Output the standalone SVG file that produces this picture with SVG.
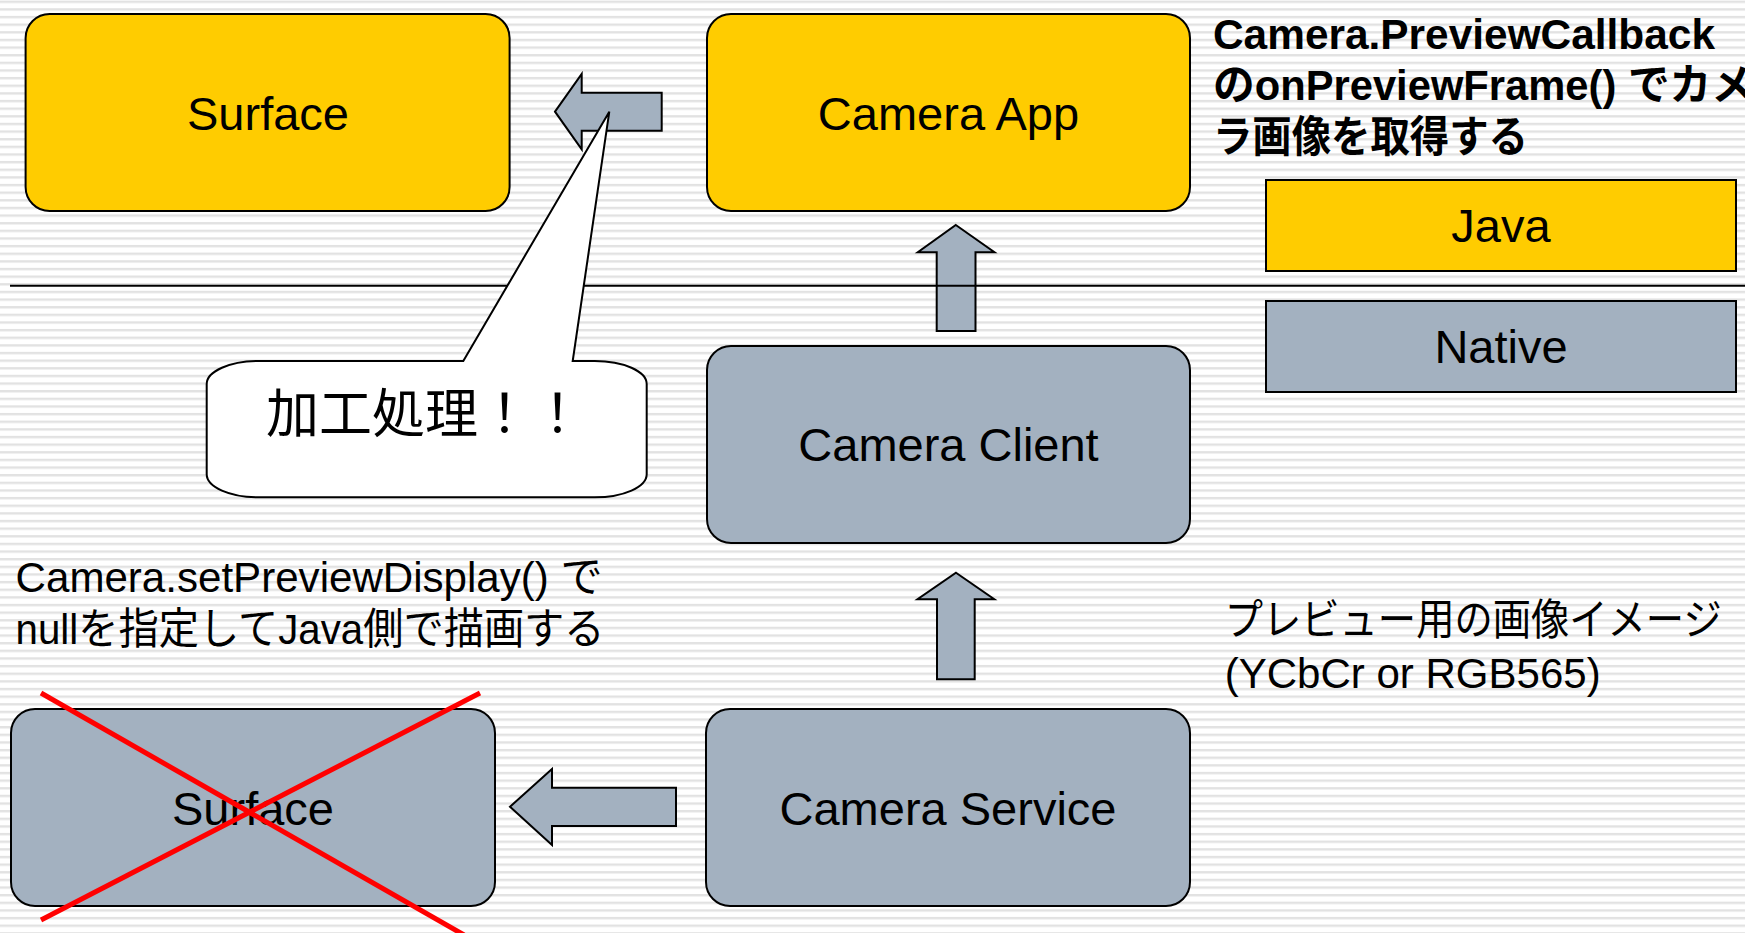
<svg xmlns="http://www.w3.org/2000/svg" width="1745" height="933" viewBox="0 0 1745 933">
<style>
.bg{fill:url(#stripes)}
.yel{fill:#FFCC00;stroke:#000;stroke-width:2}
.gry{fill:#A3B1C0;stroke:#000;stroke-width:2}
.arrow{fill:#A3B1C0;stroke:#000;stroke-width:2;stroke-linejoin:miter}
.lbl{font-family:"Liberation Sans",Arial,sans-serif;font-size:47px;fill:#000;text-anchor:middle}
.note{font-family:"Liberation Sans","Noto Sans CJK JP",sans-serif;font-size:42.7px;fill:#000}
.bold{font-weight:bold}
.callout{fill:#fff;stroke:#000;stroke-width:2;stroke-linejoin:miter}
.cjk{font-family:"Noto Sans CJK JP",sans-serif;font-size:53px;fill:#000;text-anchor:middle}
.cross{stroke:#FF0000;stroke-width:5;fill:none}
</style>
<defs>
<pattern id="stripes" patternUnits="userSpaceOnUse" x="0" y="0.6" width="20" height="7.636">
<rect x="0" y="0" width="20" height="7.636" fill="#ffffff"/>
<rect x="0" y="0" width="20" height="2.4" fill="#e2e2e2"/>
</pattern>
</defs>
<rect class="bg" x="0" y="0" width="1745" height="933"/>

<g id="connectors">
<polygon id="arrow-app-surface" class="arrow" points="555,111.7 581.7,74 581.7,92.7 661.7,92.7 661.7,130.7 581.7,130.7 581.7,149.3"/>
<polygon id="arrow-client-app" class="arrow" points="955.8,225 994.5,252.3 975.5,252.3 975.5,331 936.7,331 936.7,252.3 917.8,252.3"/>
<polygon id="arrow-service-client" class="arrow" points="956,572.7 994.3,599.3 974.7,599.3 974.7,679.3 937,679.3 937,599.3 917.5,599.3"/>
<polygon id="arrow-service-surface" class="arrow" points="510,806.7 552,769 552,787.7 676,787.7 676,826 552,826 552,845"/>
</g>

<line id="divider" x1="10" y1="285.7" x2="1745" y2="285.7" stroke="#000" stroke-width="2"/>

<g id="surface-java">
<rect class="yel" x="25.6" y="14" width="484" height="197" rx="24" ry="24"/>
<text class="lbl" x="268" y="130">Surface</text>
</g>
<g id="camera-app">
<rect class="yel" x="707" y="14" width="483" height="197" rx="24" ry="24"/>
<text class="lbl" x="948.5" y="130">Camera App</text>
</g>
<g id="camera-client">
<rect class="gry" x="707" y="346" width="483" height="197" rx="24" ry="24"/>
<text class="lbl" x="948.5" y="461">Camera Client</text>
</g>
<g id="camera-service">
<rect class="gry" x="706" y="709" width="484" height="197" rx="24" ry="24"/>
<text class="lbl" x="948" y="825">Camera Service</text>
</g>
<g id="surface-native">
<rect class="gry" x="11" y="709" width="484" height="197" rx="24" ry="24"/>
<text class="lbl" x="253" y="825">Surface</text>
</g>
<g id="legend-java">
<rect class="yel" x="1266" y="180" width="470" height="91"/>
<text class="lbl" x="1501" y="242">Java</text>
</g>
<g id="legend-native">
<rect class="gry" x="1266" y="301" width="470" height="91"/>
<text class="lbl" x="1501" y="363">Native</text>
</g>

<g id="callout">
<path class="callout" d="M258.7,361 L463.3,361 L609.3,111.7 L572.7,361 L594.7,361 A52 23 0 0 1 646.7,384 L646.7,474.3 A52 23 0 0 1 594.7,497.3 L258.7,497.3 A52 23 0 0 1 206.7,474.3 L206.7,384 A52 23 0 0 1 258.7,361 Z"/>
<text class="cjk" x="425" y="433">加工処理！！</text>
</g>

<g id="note-callback" class="note bold">
<text x="1213" y="48.5" textLength="502" lengthAdjust="spacingAndGlyphs">Camera.PreviewCallback</text>
<text x="1213" y="100" textLength="540" lengthAdjust="spacingAndGlyphs">のonPreviewFrame() でカメ</text>
<text x="1213" y="151.5" textLength="315" lengthAdjust="spacingAndGlyphs">ラ画像を取得する</text>
</g>

<g id="note-display" class="note">
<text x="15.6" y="591.7" textLength="587" lengthAdjust="spacingAndGlyphs">Camera.setPreviewDisplay() で</text>
<text x="15.6" y="644" textLength="589" lengthAdjust="spacingAndGlyphs">nullを指定してJava側で描画する</text>
</g>

<g id="note-preview" class="note">
<text x="1224.7" y="635" textLength="497" lengthAdjust="spacingAndGlyphs">プレビュー用の画像イメージ</text>
<text x="1224.7" y="688" textLength="376" lengthAdjust="spacingAndGlyphs">(YCbCr or RGB565)</text>
</g>

<g id="cross">
<line class="cross" x1="41" y1="693" x2="464" y2="935"/>
<line class="cross" x1="480" y1="693" x2="41" y2="920"/>
</g>
</svg>
